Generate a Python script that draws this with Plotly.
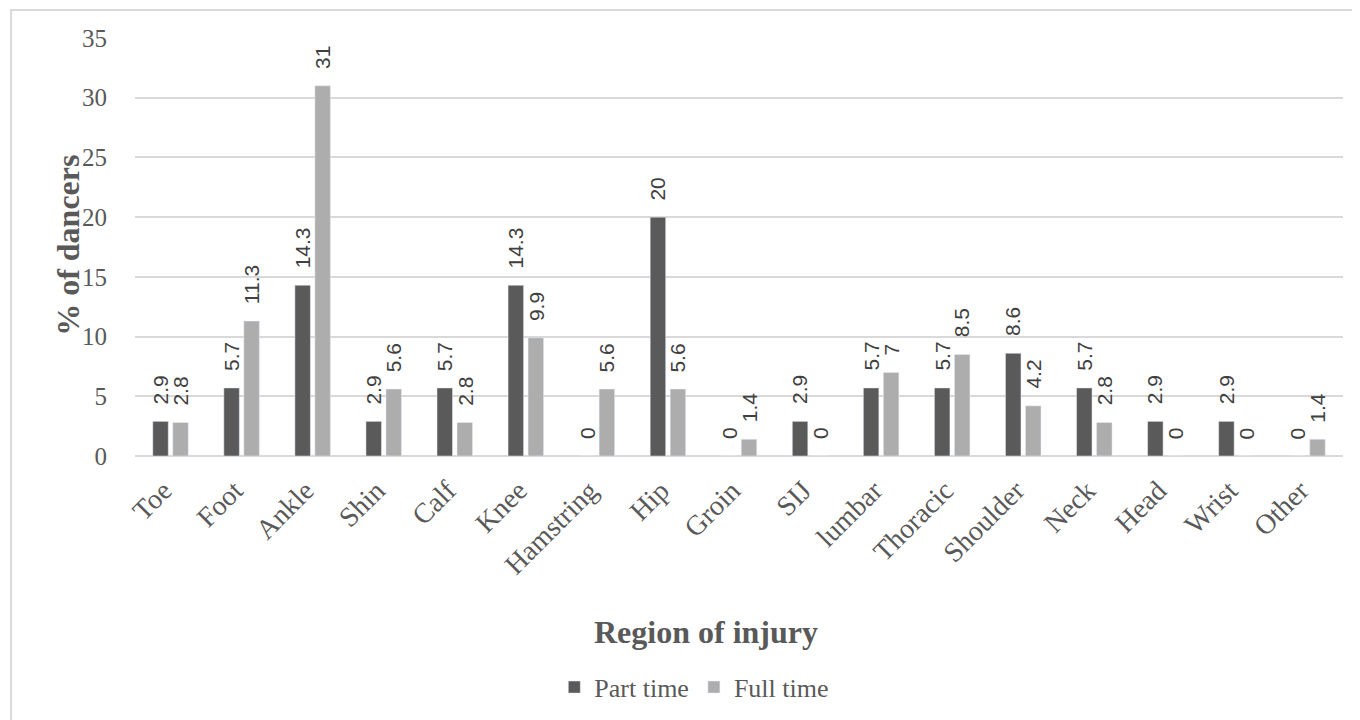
import plotly.graph_objects as go

categories = ["Toe", "Foot", "Ankle", "Shin", "Calf", "Knee", "Hamstring", "Hip", "Groin",
              "SIJ", "lumbar", "Thoracic", "Shoulder", "Neck", "Head", "Wrist", "Other"]
part_time = [2.9, 5.7, 14.3, 2.9, 5.7, 14.3, 0, 20, 0, 2.9, 5.7, 5.7, 8.6, 5.7, 2.9, 2.9, 0]
full_time = [2.8, 11.3, 31, 5.6, 2.8, 9.9, 5.6, 5.6, 1.4, 0, 7, 8.5, 4.2, 2.8, 0, 0, 1.4]
y_ticks = [0, 5, 10, 15, 20, 25, 30, 35]

DARK = "#5a5a5a"
LIGHT = "#adadad"
SERIF = "Liberation Serif, Times New Roman, serif"
NARROW = "Liberation Sans Narrow, Arial Narrow, Liberation Sans, sans-serif"

fig = go.Figure()
fig.add_trace(go.Bar(x=categories, y=part_time, name="Part time", marker_color=DARK))
fig.add_trace(go.Bar(x=categories, y=full_time, name="Full time", marker_color=LIGHT))

annotations = []
for series, shift in ((part_time, -10), (full_time, 10)):
    for c, v in zip(categories, series):
        annotations.append(dict(
            x=c, y=v, xref="x", yref="y", text=f"{v:g}", showarrow=False,
            textangle=-90, xanchor="center", yanchor="bottom", xshift=shift, yshift=15,
            font=dict(family=NARROW, size=21, color="#404040")))

annotations.append(dict(
    x=0.473, y=-0.421, xref="paper", yref="paper", text="<b>Region of injury</b>",
    showarrow=False, xanchor="center", yanchor="middle",
    font=dict(family=SERIF, size=32, color="#595959")))
annotations.append(dict(
    x=-0.0555, y=0.505, xref="paper", yref="paper", text="<b>% of dancers</b>",
    showarrow=False, xanchor="center", yanchor="middle", textangle=-90,
    font=dict(family=SERIF, size=32, color="#595959")))

fig.update_layout(
    width=1360, height=720,
    margin=dict(l=127, r=25, t=30, b=272),
    paper_bgcolor="white", plot_bgcolor="white",
    barmode="group", bargap=0.437, bargroupgap=0.225,
    showlegend=True,
    legend=dict(orientation="h", x=0.463, y=-0.553, xanchor="center", yanchor="middle",
                font=dict(family=SERIF, size=26, color="#595959"),
                itemwidth=30, traceorder="normal"),
    annotations=annotations,
    shapes=[dict(type="rect", xref="paper", yref="paper", x0=-0.1026, y0=-0.75, x1=1.05, y1=1.067,
                 line=dict(color="#d9d9d9", width=2), fillcolor="rgba(0,0,0,0)", layer="below")],
)
fig.update_xaxes(
    type="category", tickangle=-45, showgrid=False, showline=False, zeroline=False,
    ticks="outside", ticklen=6, tickcolor="rgba(0,0,0,0)", ticklabelshift=-7,
    tickfont=dict(family=SERIF, size=28, color="#595959"))
fig.update_yaxes(
    range=[0, 35], tickvals=y_ticks, showgrid=True, gridcolor="#d9d9d9", gridwidth=1.5,
    zeroline=True, zerolinecolor="#d9d9d9", zerolinewidth=1.5, showline=False,
    ticks="outside", ticklen=22, tickcolor="rgba(0,0,0,0)",
    tickfont=dict(family=SERIF, size=25, color="#595959"))

fig.write_html("out.html")
